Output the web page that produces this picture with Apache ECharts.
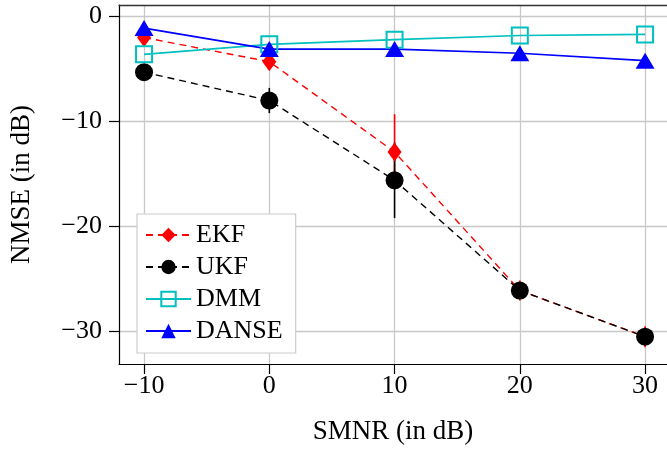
<!DOCTYPE html>
<html><head><meta charset="utf-8">
<script src="https://cdn.jsdelivr.net/npm/echarts@6/dist/echarts.min.js"></script>
<style>html,body{margin:0;padding:0;background:#fff}#c{width:667px;height:450px}</style>
</head><body><div id="c"></div>
<script>
const smnr = [-10, 0, 10, 20, 30];
const ekf = [-2.0, -4.3, -12.9, -26.1, -30.5];
const ekfErr = [0.3, 0.3, 3.6, 0.95, 1.0];
const ukf = [-5.3, -8.0, -15.6, -26.1, -30.5];
const ukfErr = [0.3, 1.2, 3.6, 0.5, 0.5];
const dmm = [-3.6, -2.65, -2.2, -1.8, -1.7];
const danse = [-1.1, -3.1, -3.1, -3.5, -4.2];
const xTicks = [-10, 0, 10, 20, 30];
const yTicks = [-30, -20, -10, 0];

const FONT = '"Liberation Serif", "Times New Roman", serif';
const fmt = v => String(v).replace('-', '\u2212');

function errSeries(name, vals, errs, color) {
  return {
    type: 'custom', name: name + ' err', z: 1, silent: true,
    data: smnr.map((x, i) => [x, vals[i] - errs[i], vals[i] + errs[i]]),
    encode: { x: 0, y: [1, 2] },
    renderItem(params, api) {
      const p1 = api.coord([api.value(0), api.value(1)]);
      const p2 = api.coord([api.value(0), api.value(2)]);
      return { type: 'line', shape: { x1: p1[0], y1: p1[1], x2: p2[0], y2: p2[1] },
               style: { stroke: color, lineWidth: 1.6 } };
    }
  };
}
function pts(vals) { return smnr.map((x, i) => [x, vals[i]]); }

const chart = echarts.init(document.getElementById('c'), null, { renderer: 'canvas' });
chart.setOption({
  animation: false,
  backgroundColor: '#fff',
  textStyle: { fontFamily: FONT },
  grid: { left: 117, top: 5, right: 0, bottom: 84, show: false },
  xAxis: [{
    type: 'value', min: -12, max: 31.75, position: 'bottom',
    axisLine: { show: true, onZero: false, lineStyle: { color: '#000', width: 1.2 } },
    axisTick: { show: true, inside: false, length: 10, customValues: xTicks, lineStyle: { color: '#000', width: 1.2 } },
    axisLabel: { customValues: xTicks, formatter: fmt, fontSize: 26, color: '#000', fontFamily: FONT, margin: 9 },
    splitLine: { show: true, lineStyle: { color: '#c8c8c8', width: 1.3 } },
    name: 'SMNR (in dB)', nameLocation: 'middle', nameGap: 54,
    nameTextStyle: { fontSize: 27, color: '#000', fontFamily: FONT }
  }, {
    type: 'value', min: -12, max: 31.75, position: 'top',
    axisLine: { show: true, onZero: false, lineStyle: { color: '#333', width: 1.4 } },
    axisTick: { show: false }, axisLabel: { show: false }, splitLine: { show: false }
  }],
  yAxis: {
    type: 'value', min: -33.1, max: 1.1,
    axisLine: { show: true, onZero: false, lineStyle: { color: '#000', width: 1.2 } },
    axisTick: { show: true, inside: false, length: 10, customValues: yTicks, lineStyle: { color: '#000', width: 1.2 } },
    axisLabel: { customValues: yTicks, formatter: fmt, fontSize: 26, color: '#000', fontFamily: FONT, margin: 17 },
    splitLine: { show: true, lineStyle: { color: '#c8c8c8', width: 1.3 } },
    name: 'NMSE (in dB)', nameLocation: 'middle', nameGap: 84,
    nameTextStyle: { fontSize: 27, color: '#000', fontFamily: FONT }
  },
  legend: {
    orient: 'vertical', left: 137, top: 214,
    data: ['EKF', 'UKF', 'DMM', 'DANSE'],
    backgroundColor: '#fff', borderColor: '#cccccc', borderWidth: 1.2,
    padding: [8, 13, 9, 8], itemGap: 6, itemWidth: 45, itemHeight: 18,
    textStyle: { fontSize: 26, color: '#000', fontFamily: FONT }
  },
  series: [
    errSeries('EKF', ekf, ekfErr, '#ff0000'),
    errSeries('UKF', ukf, ukfErr, '#000000'),
    { type: 'line', name: 'EKF', z: 2, data: pts(ekf), symbol: 'diamond', symbolSize: [14, 19],
      itemStyle: { color: '#ff0000' }, lineStyle: { color: '#ff0000', width: 1.4, type: [7, 5] } },
    { type: 'line', name: 'UKF', z: 2, data: pts(ukf), symbol: 'circle', symbolSize: 18,
      itemStyle: { color: '#000000' }, lineStyle: { color: '#000000', width: 1.4, type: [7, 5] } },
    { type: 'line', name: 'DMM', z: 2, data: pts(dmm), symbol: 'rect', symbolSize: 16,
      itemStyle: { color: 'rgba(0,0,0,0)', borderColor: '#00bfbf', borderWidth: 2 }, lineStyle: { color: '#00bfbf', width: 1.6 } },
    { type: 'line', name: 'DANSE', z: 2, data: pts(danse), symbol: 'triangle', symbolSize: [19, 16],
      itemStyle: { color: '#0000ff' }, lineStyle: { color: '#0000ff', width: 1.6 } }
  ]
});
</script></body></html>
